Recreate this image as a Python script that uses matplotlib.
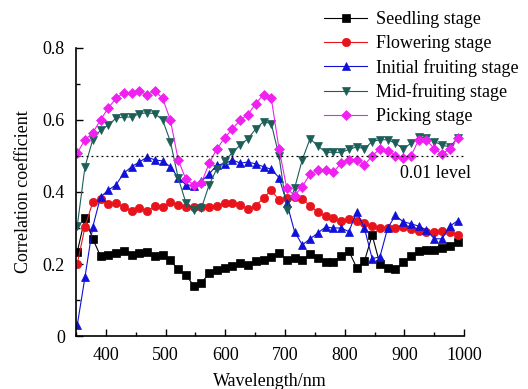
import numpy as np
import matplotlib
matplotlib.use("Agg")
from matplotlib import pyplot as plt
from matplotlib.ticker import MultipleLocator

plt.rcParams['font.family'] = ['Liberation Serif', 'DejaVu Serif']

# wavelengths of the marked points (nm)
wl = [352, 365, 378, 391, 404, 417, 430, 443, 456, 469, 482, 495, 508, 521, 534,
      547, 560, 573, 586, 599, 612, 625, 638, 651, 664, 677, 690, 703, 716, 729,
      742, 755, 768, 781, 794, 807, 820, 833, 846, 859, 872, 885, 898, 911, 924,
      937, 950, 963, 976, 989]

seedling = [0.233, 0.328, 0.27, 0.222, 0.225, 0.231, 0.236, 0.225, 0.231, 0.233,
            0.222, 0.225, 0.21, 0.185, 0.17, 0.14, 0.147, 0.175, 0.183, 0.19,
            0.194, 0.203, 0.198, 0.208, 0.211, 0.22, 0.232, 0.21, 0.217, 0.21,
            0.228, 0.218, 0.206, 0.206, 0.222, 0.236, 0.19, 0.208, 0.28, 0.2,
            0.19, 0.185, 0.205, 0.222, 0.236, 0.238, 0.238, 0.244, 0.25, 0.26]

flowering = [0.2, 0.303, 0.372, 0.38, 0.366, 0.37, 0.358, 0.347, 0.355, 0.348,
             0.36, 0.358, 0.372, 0.364, 0.358, 0.358, 0.358, 0.358, 0.362, 0.37,
             0.37, 0.365, 0.353, 0.362, 0.383, 0.405, 0.378, 0.384, 0.386, 0.38,
             0.362, 0.344, 0.332, 0.328, 0.32, 0.324, 0.319, 0.314, 0.305, 0.3,
             0.3, 0.3, 0.302, 0.298, 0.292, 0.289, 0.29, 0.293, 0.29, 0.28]

initial = [0.03, 0.164, 0.303, 0.386, 0.405, 0.42, 0.452, 0.47, 0.483, 0.497,
           0.489, 0.486, 0.47, 0.44, 0.42, 0.417, 0.43, 0.45, 0.475, 0.478,
           0.489, 0.48, 0.483, 0.478, 0.47, 0.463, 0.44, 0.37, 0.29, 0.253,
           0.27, 0.286, 0.303, 0.30, 0.30, 0.29, 0.345, 0.30, 0.215, 0.22,
           0.30, 0.335, 0.317, 0.312, 0.305, 0.295, 0.27, 0.27, 0.305, 0.32]

mid = [0.305, 0.47, 0.545, 0.572, 0.585, 0.605, 0.608, 0.608, 0.617, 0.62,
       0.617, 0.60, 0.54, 0.44, 0.37, 0.35, 0.355, 0.42, 0.465, 0.485,
       0.51, 0.53, 0.548, 0.575, 0.595, 0.59, 0.50, 0.35, 0.41, 0.49,
       0.548, 0.528, 0.51, 0.51, 0.51, 0.518, 0.525, 0.52, 0.54, 0.545,
       0.545, 0.535, 0.52, 0.535, 0.552, 0.55, 0.54, 0.53, 0.525, 0.55]

picking = [0.508, 0.545, 0.564, 0.60, 0.633, 0.66, 0.675, 0.675, 0.68, 0.67,
           0.68, 0.66, 0.60, 0.49, 0.435, 0.42, 0.425, 0.48, 0.52, 0.55,
           0.575, 0.60, 0.615, 0.645, 0.67, 0.66, 0.52, 0.41, 0.39, 0.415,
           0.45, 0.46, 0.46, 0.455, 0.48, 0.49, 0.49, 0.475, 0.50, 0.52,
           0.515, 0.50, 0.495, 0.50, 0.545, 0.545, 0.52, 0.505, 0.52, 0.55]

series = [
    ("Seedling stage", seedling, "black", "s"),
    ("Flowering stage", flowering, "#e8141c", "o"),
    ("Initial fruiting stage", initial, "#1010d8", "^"),
    ("Mid-fruiting stage", mid, "#1c5e58", "v"),
    ("Picking stage", picking, "#f020f0", "D"),
]

fig = plt.figure(figsize=(5.28, 3.89), dpi=100)
ax = fig.add_axes([0.144, 0.136, 0.735, 0.741])

for name, vals, col, mk in series:
    ax.plot(wl, vals, color=col, lw=0.8, marker=mk,
            markersize=6 if mk != "D" else 5.5, markeredgewidth=0.5,
            markeredgecolor=col, label=name)

# 0.01 significance level
ax.plot([350, 1000], [0.5, 0.5], color="black", lw=0.9, ls=(0, (1.5, 2.5)))
ax.text(952, 0.45, "0.01 level", fontsize=13, ha="center", va="center")

ax.set_xlim(350, 1000)
ax.set_ylim(0, 0.8)
ax.xaxis.set_major_locator(MultipleLocator(100))
ax.xaxis.set_minor_locator(MultipleLocator(50))
ax.yaxis.set_major_locator(MultipleLocator(0.2))
ax.yaxis.set_minor_locator(MultipleLocator(0.1))
ax.set_xticks([400, 500, 600, 700, 800, 900, 1000])
ax.set_yticks([0, 0.2, 0.4, 0.6, 0.8])
ax.set_yticklabels(["0", "0.2", "0.4", "0.6", "0.8"])
ax.tick_params(which="major", direction="in", length=5, width=1, labelsize=13)
ax.tick_params(axis="x", which="major", pad=8)
ax.tick_params(axis="y", which="major", pad=8)
ax.tick_params(which="minor", direction="in", length=3, width=1)
ax.spines["top"].set_visible(False)
ax.spines["right"].set_visible(False)
ax.spines["left"].set_linewidth(1.2)
ax.spines["bottom"].set_linewidth(1.2)

ax.set_xlabel("Wavelength/nm", fontsize=13, labelpad=6)
ax.set_ylabel("Correlation coefficient", fontsize=13, labelpad=8)

fig.legend(loc="upper left", bbox_to_anchor=(0.600, 0.99), frameon=False,
           fontsize=13, handlelength=2.4, labelspacing=0.38, handletextpad=0.5,
           borderaxespad=0)

fig.savefig("out.png", dpi=100)
